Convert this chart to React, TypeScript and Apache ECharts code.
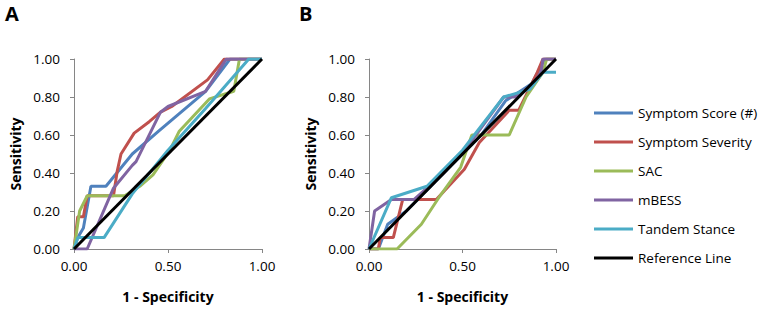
import React, { useEffect, useRef } from "react";
import * as echarts from "echarts";

const seriesNames = ["Symptom Score (#)", "Symptom Severity", "SAC", "mBESS", "Tandem Stance", "Reference Line"];
const colors = ["#4F81BD", "#C0504D", "#9BBB59", "#8064A2", "#4BACC6", "#000000"];
const xTicks = [0, 0.5, 1];
const yTicks = [0, 0.2, 0.4, 0.6, 0.8, 1];

// Panel A points [1 - specificity, sensitivity]
const aScore = [[0,0],[0.02,0.06],[0.05,0.11],[0.09,0.33],[0.17,0.33],[0.31,0.5],[0.45,0.62],[0.7,0.83],[0.83,1],[1,1]];
const aSeverity = [[0,0],[0.02,0.17],[0.05,0.17],[0.07,0.28],[0.21,0.28],[0.23,0.41],[0.25,0.5],[0.32,0.61],[0.4,0.67],[0.46,0.72],[0.52,0.75],[0.71,0.89],[0.8,1],[1,1]];
const aSAC = [[0,0],[0.03,0.2],[0.07,0.28],[0.27,0.28],[0.35,0.33],[0.42,0.39],[0.51,0.52],[0.56,0.62],[0.72,0.79],[0.85,0.83],[0.88,1],[1,1]];
const aMBESS = [[0,0],[0.07,0],[0.21,0.32],[0.31,0.44],[0.33,0.46],[0.46,0.72],[0.5,0.75],[0.7,0.83],[0.81,1],[1,1]];
const aTandem = [[0,0],[0.02,0.06],[0.16,0.06],[0.31,0.29],[0.5,0.52],[0.7,0.74],[0.93,1],[1,1]];
const refLine = [[0,0],[1,1]];

// Panel B
const bScore = [[0,0],[0.05,0],[0.1,0.13],[0.2,0.2],[0.4,0.4],[0.6,0.6],[0.73,0.78],[0.87,0.87],[0.94,1],[1,1]];
const bSeverity = [[0,0],[0.05,0],[0.06,0.06],[0.13,0.06],[0.18,0.26],[0.36,0.26],[0.51,0.42],[0.59,0.56],[0.75,0.73],[0.8,0.73],[0.9,0.93],[0.93,1],[1,1]];
const bSAC = [[0,0],[0.15,0],[0.28,0.13],[0.38,0.28],[0.49,0.43],[0.55,0.6],[0.75,0.6],[0.84,0.8],[0.93,0.93],[0.95,1],[1,1]];
const bMBESS = [[0,0],[0.03,0.2],[0.12,0.26],[0.24,0.26],[0.4,0.4],[0.55,0.57],[0.72,0.8],[0.78,0.8],[0.87,0.86],[0.92,0.93],[0.93,1],[1,1]];
const bTandem = [[0,0],[0.12,0.27],[0.31,0.33],[0.5,0.52],[0.72,0.8],[0.86,0.84],[0.93,0.93],[1,0.93]];

const panelA = [aScore, aSeverity, aSAC, aMBESS, aTandem, refLine];
const panelB = [bScore, bSeverity, bSAC, bMBESS, bTandem, refLine];

const FONT = "'Open Sans', sans-serif";

export default function App() {
  const ref = useRef<HTMLDivElement>(null);
  useEffect(() => {
    if (!ref.current) return;
    const chart = echarts.init(ref.current, undefined, { renderer: "svg" });
    const axisX = (gi: number) => ({
      type: "value",
      gridIndex: gi,
      min: 0,
      max: 1,
      interval: 0.5,
      name: "1 - Specificity",
      nameLocation: "middle",
      nameGap: 40,
      nameTextStyle: { fontFamily: FONT, fontSize: 14, fontWeight: "bold", color: "#000" },
      axisLine: { show: true, lineStyle: { color: "#868686", width: 1 } },
      axisTick: { show: true, inside: false, length: 4, lineStyle: { color: "#868686" } },
      axisLabel: {
        margin: 10,
        fontFamily: FONT,
        fontSize: 13.5,
        color: "#000",
        formatter: (v: number) => (xTicks.includes(v) ? v.toFixed(2) : ""),
      },
      splitLine: { show: false },
    });
    const axisY = (gi: number) => ({
      type: "value",
      gridIndex: gi,
      min: 0,
      max: 1,
      interval: 0.2,
      name: "Sensitivity",
      nameLocation: "middle",
      nameRotate: 90,
      nameGap: 52,
      nameTextStyle: { fontFamily: FONT, fontSize: 14, fontWeight: "bold", color: "#000" },
      axisLine: { show: true, lineStyle: { color: "#868686", width: 1 } },
      axisTick: { show: true, inside: false, length: 4, lineStyle: { color: "#868686" } },
      axisLabel: {
        margin: 14,
        fontFamily: FONT,
        fontSize: 13.5,
        color: "#000",
        formatter: (v: number) => (yTicks.some((t) => Math.abs(t - v) < 1e-6) ? v.toFixed(2) : ""),
      },
      splitLine: { show: false },
    });
    const mk = (panel: number[][][], gi: number) =>
      panel.map((d, i) => ({
        type: "line",
        name: seriesNames[i],
        xAxisIndex: gi,
        yAxisIndex: gi,
        data: d,
        showSymbol: false,
        symbol: "none",
        lineStyle: { color: colors[i], width: 3 },
        itemStyle: { color: colors[i] },
        z: 2 + i,
      }));
    chart.setOption({
      animation: false,
      backgroundColor: "#fff",
      color: colors,
      grid: [
        { left: 74, top: 59, width: 188, height: 190 },
        { left: 369, top: 59, width: 187, height: 190 },
      ],
      xAxis: [axisX(0), axisX(1)],
      yAxis: [axisY(0), axisY(1)],
      legend: {
        orient: "vertical",
        left: 589,
        top: 100,
        itemWidth: 39,
        itemHeight: 3,
        itemGap: 13,
        icon: "rect",
        data: seriesNames,
        textStyle: { fontFamily: FONT, fontSize: 13.5, color: "#000", lineHeight: 16 },
      },
      graphic: [
        { type: "text", left: 5, top: 3, style: { text: "A", font: `bold 20px ${FONT}`, fill: "#000" } },
        { type: "text", left: 299, top: 3, style: { text: "B", font: `bold 20px ${FONT}`, fill: "#000" } },
      ],
      series: [...mk(panelA, 0), ...mk(panelB, 1)],
    });
    return () => chart.dispose();
  }, []);
  return (
    <div
      ref={ref}
      style={{ position: "absolute", left: 0, top: 0, width: 762, height: 312 }}
    />
  );
}
